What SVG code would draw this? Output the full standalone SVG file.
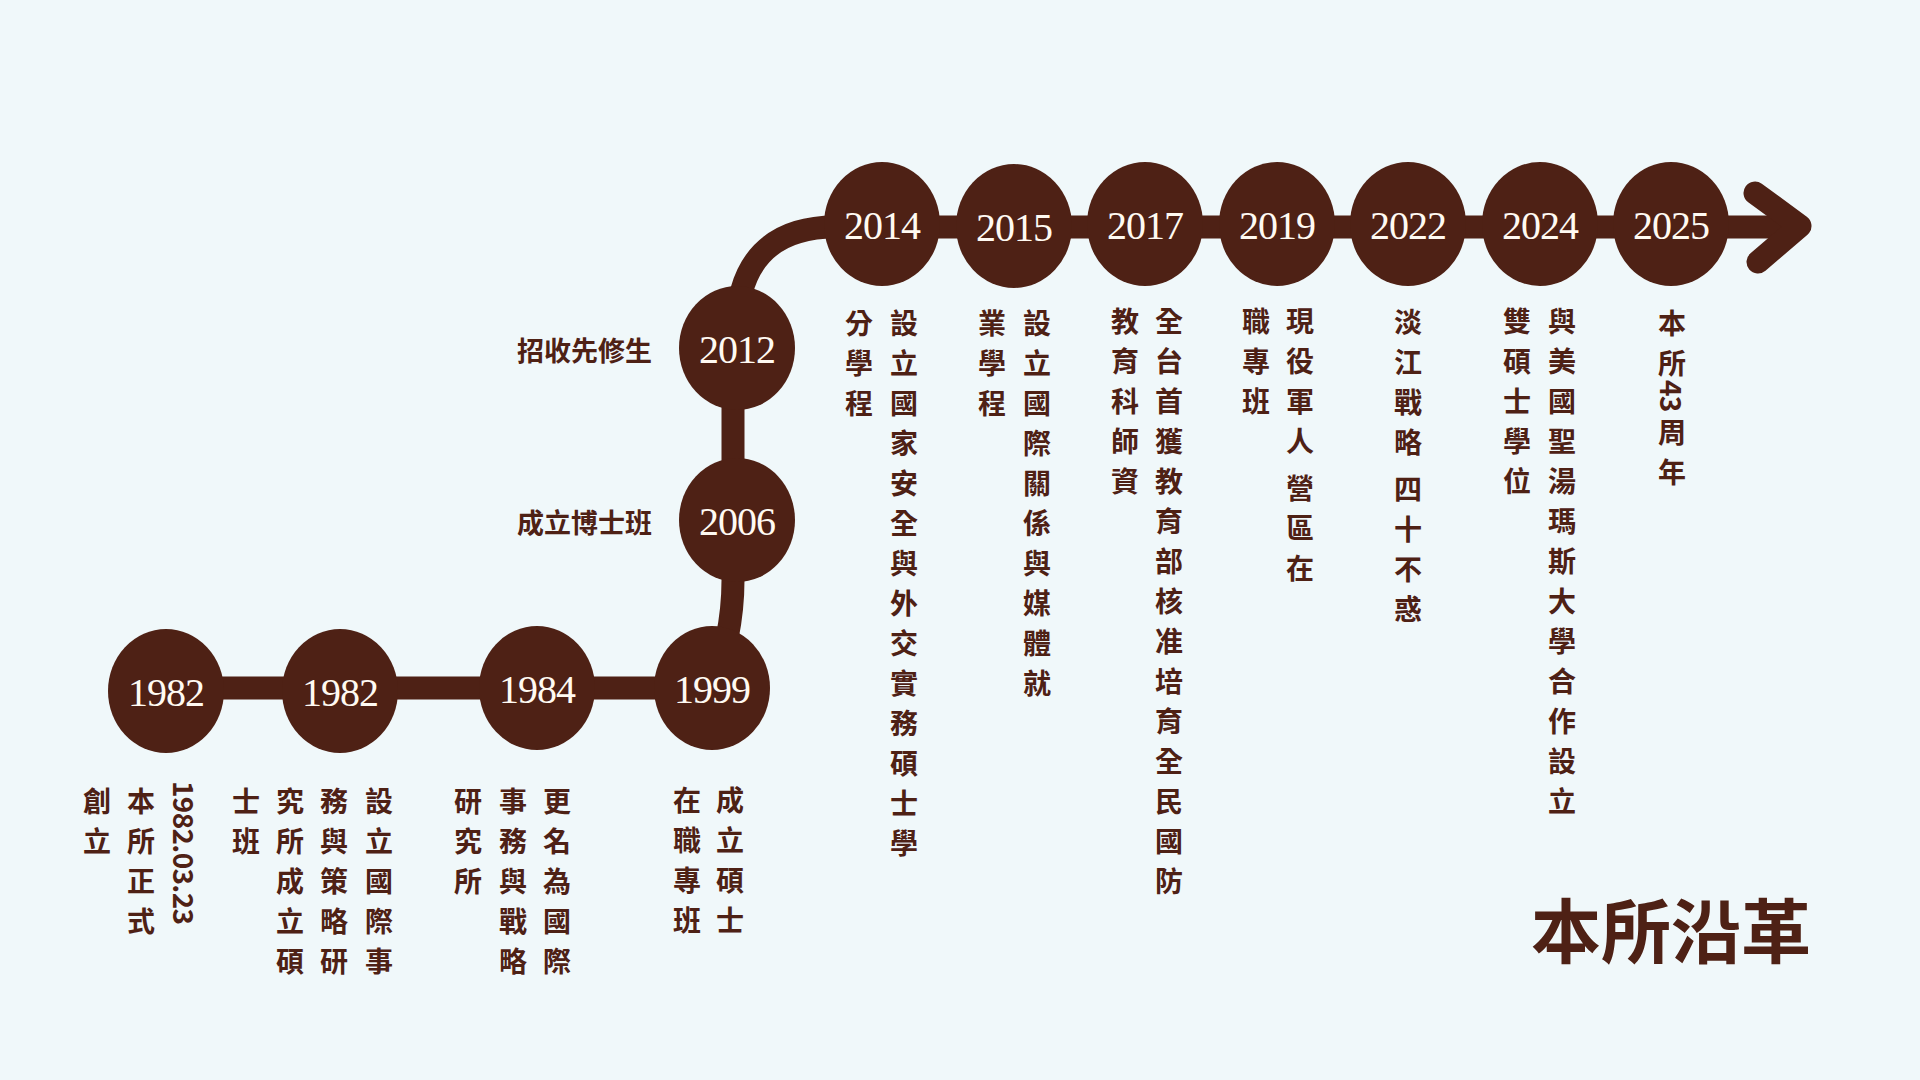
<svg xmlns="http://www.w3.org/2000/svg" width="1920" height="1080" viewBox="0 0 1920 1080">
<style>
.bg{fill:#f0f8fa}
.dot{fill:#4e2115}
.yr{font-family:"Liberation Serif","Times New Roman",serif;font-size:40px;fill:#fffaf2;text-anchor:middle;letter-spacing:-1px}
.v{writing-mode:vertical-rl;font-family:"Noto Sans CJK TC","Noto Sans CJK SC",sans-serif;font-weight:700;font-size:28px;letter-spacing:12px;fill:#4e2115}
.d{letter-spacing:-0.7px}
.h{font-family:"Noto Sans CJK TC","Noto Sans CJK SC",sans-serif;font-weight:700;font-size:27px;fill:#4e2115;text-anchor:end}
.title{font-family:"Noto Sans CJK TC","Noto Sans CJK SC",sans-serif;font-weight:700;font-size:70px;fill:#4e2115}
.line{fill:none;stroke:#4e2115;stroke-width:23;stroke-linecap:round;stroke-linejoin:round}
</style>
<rect class="bg" x="0" y="0" width="1920" height="1080"/>
<g id="connectors">
<path class="line" d="M166 688 H712" style="stroke-linecap:butt"/>
<path class="line" d="M712 688 C724 660 733 620 733 580 L733 348" style="stroke-linecap:butt"/>
<path class="line" d="M737 330 C737 262 772 227 835 227 H1800" style="stroke-linecap:butt"/>
<path class="line" d="M1755 193 L1800 226 L1758 262"/>
</g>
<g id="node-1982a">
<ellipse class="dot" cx="166" cy="691" rx="58" ry="62"/>
<text class="yr" x="166" y="706">1982</text>
<text class="v" x="185" y="781"><tspan class="d">1982.03.23</tspan></text>
<text class="v" x="141" y="787">本所正式</text>
<text class="v" x="97" y="787">創立</text>
</g>
<g id="node-1982b">
<ellipse class="dot" cx="340" cy="691" rx="58" ry="62"/>
<text class="yr" x="340" y="706">1982</text>
<text class="v" x="379" y="787">設立國際事</text>
<text class="v" x="334" y="787">務與策略研</text>
<text class="v" x="290" y="787">究所成立碩</text>
<text class="v" x="246" y="787">士班</text>
</g>
<g id="node-1984">
<ellipse class="dot" cx="537" cy="688" rx="58" ry="62"/>
<text class="yr" x="537" y="703">1984</text>
<text class="v" x="557" y="787">更名為國際</text>
<text class="v" x="513" y="787">事務與戰略</text>
<text class="v" x="468" y="787">研究所</text>
</g>
<g id="node-1999">
<ellipse class="dot" cx="712" cy="688" rx="58" ry="62"/>
<text class="yr" x="712" y="703">1999</text>
<text class="v" x="730" y="786">成立碩士</text>
<text class="v" x="687" y="786">在職專班</text>
</g>
<g id="node-2006">
<ellipse class="dot" cx="737" cy="520" rx="58" ry="62"/>
<text class="yr" x="737" y="535">2006</text>
<text class="h" x="652" y="533">成立博士班</text>
</g>
<g id="node-2012">
<ellipse class="dot" cx="737" cy="348" rx="58" ry="62"/>
<text class="yr" x="737" y="363">2012</text>
<text class="h" x="652" y="361">招收先修生</text>
</g>
<g id="node-2014">
<ellipse class="dot" cx="882" cy="224" rx="58" ry="62"/>
<text class="yr" x="882" y="239">2014</text>
<text class="v" x="904" y="309">設立國家安全與外交實務碩士學</text>
<text class="v" x="859" y="309">分學程</text>
</g>
<g id="node-2015">
<ellipse class="dot" cx="1014" cy="226" rx="58" ry="62"/>
<text class="yr" x="1014" y="241">2015</text>
<text class="v" x="1037" y="309">設立國際關係與媒體就</text>
<text class="v" x="992" y="309">業學程</text>
</g>
<g id="node-2017">
<ellipse class="dot" cx="1145" cy="224" rx="58" ry="62"/>
<text class="yr" x="1145" y="239">2017</text>
<text class="v" x="1169" y="307">全台首獲教育部核准培育全民國防</text>
<text class="v" x="1125" y="307">教育科師資</text>
</g>
<g id="node-2019">
<ellipse class="dot" cx="1277" cy="224" rx="58" ry="62"/>
<text class="yr" x="1277" y="239">2019</text>
<text class="v" x="1300" y="307">現役軍人<tspan y="474">營區在</tspan></text>
<text class="v" x="1256" y="307">職專班</text>
</g>
<g id="node-2022">
<ellipse class="dot" cx="1408" cy="224" rx="58" ry="62"/>
<text class="yr" x="1408" y="239">2022</text>
<text class="v" x="1408" y="308">淡江戰略<tspan y="475">四十不惑</tspan></text>
</g>
<g id="node-2024">
<ellipse class="dot" cx="1540" cy="224" rx="58" ry="62"/>
<text class="yr" x="1540" y="239">2024</text>
<text class="v" x="1562" y="307">與美國聖湯瑪斯大學合作設立</text>
<text class="v" x="1517" y="307">雙碩士學位</text>
</g>
<g id="node-2025">
<ellipse class="dot" cx="1671" cy="224" rx="58" ry="62"/>
<text class="yr" x="1671" y="239">2025</text>
<text class="v" x="1672" y="309">本所<tspan class="d" y="380">43</tspan><tspan y="418">周年</tspan></text>
</g>
<g id="title">
<text class="title" x="1531" y="958">本所沿革</text>
</g>
</svg>
